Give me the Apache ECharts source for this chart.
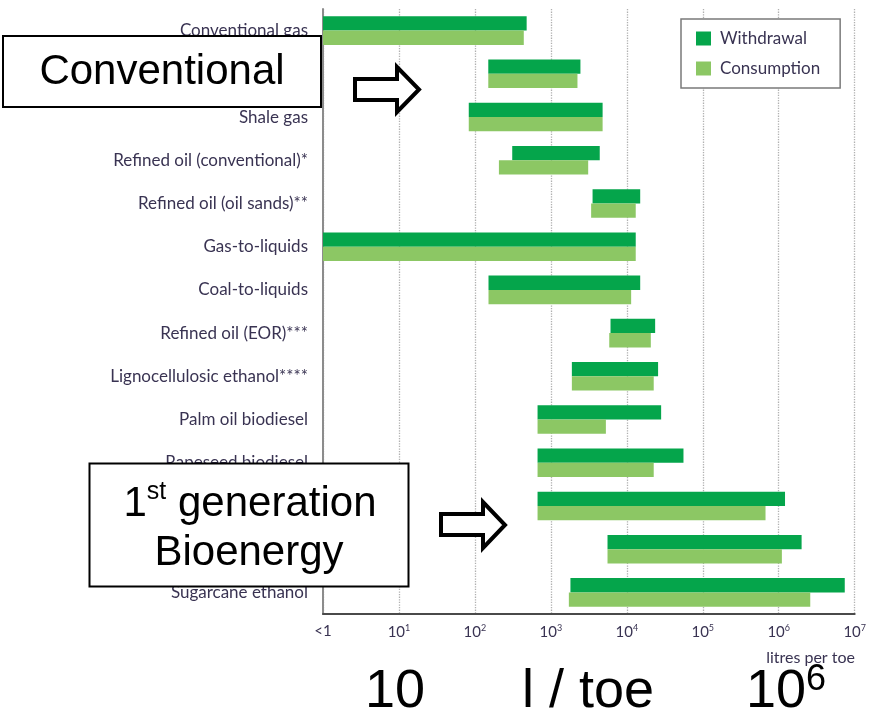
<!DOCTYPE html>
<html>
<head>
<meta charset="utf-8">
<script src="https://cdn.jsdelivr.net/npm/echarts@6/dist/echarts.min.js"></script>
<style>
html,body{margin:0;padding:0;background:#fff;}
#chart{width:869px;height:715px;}
</style>
</head>
<body>
<div id="chart"></div>
<script>
var categories = ['Conventional gas','Coal','Shale gas','Refined oil (conventional)*','Refined oil (oil sands)**','Gas-to-liquids','Coal-to-liquids','Refined oil (EOR)***','Lignocellulosic ethanol****','Palm oil biodiesel','Rapeseed biodiesel','Soybean biodiesel','Corn ethanol','Sugarcane ethanol'];
var withdrawalLow   = [1, 150, 83, 310, 3540, 1, 151, 6100, 1890, 668, 668, 668, 5570, 1810];
var withdrawalHigh  = [480, 2450, 4800, 4400, 15000, 13100, 15000, 23600, 25800, 28300, 55700, 1210000, 2000000, 7400000];
var consumptionLow  = [1, 150, 83, 207, 3390, 1, 151, 5870, 1890, 668, 668, 668, 5570, 1725];
var consumptionHigh = [440, 2240, 4800, 3100, 13100, 13100, 11400, 20700, 22600, 5300, 22600, 670000, 1100000, 2600000];
var tickExponents = ['<1', '1', '2', '3', '4', '5', '6', '7'];
var seriesNames = ['Withdrawal', 'Consumption'];

var TXT = '#393352';
var FONT = 'Lato';
var ANN = '"Liberation Sans", Arial, sans-serif';

function buildData(lo, hi) {
  return categories.map(function (c, i) { return [lo[i], i, hi[i]]; });
}

function makeRender(color, upper) {
  return function (params, api) {
    var lo = api.value(0), cat = api.value(1), hi = api.value(2);
    var s = api.coord([lo, cat]);
    var e = api.coord([hi, cat]);
    var h = 14.3;
    var y = upper ? s[1] - h : s[1];
    return {
      type: 'rect',
      shape: { x: s[0], y: y, width: e[0] - s[0], height: h },
      style: { fill: color }
    };
  };
}

var chart = echarts.init(document.getElementById('chart'), null, { renderer: 'canvas' });

var option = {
  animation: false,
  backgroundColor: '#fff',
  grid: { left: 323, right: 13, top: 9, bottom: 101, containLabel: false },
  legend: {
    left: 681, top: 19, orient: 'vertical',
    data: [{ name: seriesNames[0], icon: 'rect' }, { name: seriesNames[1], icon: 'rect' }],
    itemWidth: 15, itemHeight: 14, itemGap: 13,
    padding: [11, 20, 11, 15],
    borderColor: '#7a7a7a', borderWidth: 1.5, backgroundColor: '#fff',
    textStyle: { fontFamily: FONT, fontSize: 17, color: TXT, padding: [0, 0, 0, 4] }
  },
  xAxis: {
    type: 'log', logBase: 10, min: 1, max: 10000000, interval: 1,
    axisLine: { show: true, lineStyle: { color: '#4a4a4a', width: 2 } },
    axisTick: { show: false },
    splitLine: { show: true, lineStyle: { type: 'dotted', color: '#b0b0b0', width: 1.3 } },
    axisLabel: {
      margin: 10,
      formatter: function (v) {
        var p = Math.round(Math.log(v) / Math.LN10);
        var t = tickExponents[p];
        return p === 0 ? '{b|' + t + '}' : '{b|10}{s|' + t + '}';
      },
      rich: {
        b: { fontFamily: FONT, fontSize: 15, color: TXT },
        s: { fontFamily: FONT, fontSize: 9, color: TXT, verticalAlign: 'top', padding: [0, 0, 7, 0] }
      }
    }
  },
  yAxis: {
    type: 'category', data: categories, inverse: true,
    axisLine: { show: true, lineStyle: { color: '#8c8c8c', width: 2 } },
    axisTick: { show: false },
    splitLine: { show: false },
    axisLabel: { margin: 15, fontFamily: FONT, fontSize: 17, color: TXT }
  },
  series: [
    {
      name: seriesNames[0], type: 'custom', itemStyle: { color: '#05a54b' },
      encode: { x: [0, 2], y: 1 },
      renderItem: makeRender('#05a54b', true),
      data: buildData(withdrawalLow, withdrawalHigh)
    },
    {
      name: seriesNames[1], type: 'custom', itemStyle: { color: '#8cc764' },
      encode: { x: [0, 2], y: 1 },
      renderItem: makeRender('#8cc764', false),
      data: buildData(consumptionLow, consumptionHigh)
    }
  ],
  graphic: [
    { type: 'text', z: 50, style: { x: 855, y: 658, text: 'litres per toe', align: 'right', verticalAlign: 'middle', font: '16px ' + FONT, fill: TXT } },
    { type: 'rect', z: 100, shape: { x: 3, y: 36, width: 318, height: 71 }, style: { fill: '#fff', stroke: '#000', lineWidth: 2 } },
    { type: 'text', z: 101, style: { x: 162, y: 72, text: 'Conventional', align: 'center', verticalAlign: 'middle', font: '42px ' + ANN, fill: '#000' } },
    { type: 'polygon', z: 100, shape: { points: [[355, 79], [397, 79], [397, 67], [419, 89.5], [397, 112], [397, 100], [355, 100]] }, style: { fill: '#fff', stroke: '#000', lineWidth: 4 } },
    { type: 'rect', z: 100, shape: { x: 89.5, y: 463.5, width: 319, height: 123 }, style: { fill: '#fff', stroke: '#000', lineWidth: 2 } },
    { type: 'text', z: 101, style: {
        x: 250, y: 504, align: 'center', verticalAlign: 'middle',
        text: '{n|1}{s|st}{n| generation}',
        rich: {
          n: { fontFamily: ANN, fontSize: 42, fill: '#000', lineHeight: 48 },
          s: { fontFamily: ANN, fontSize: 25, fill: '#000', verticalAlign: 'top', lineHeight: 30 }
        }
      } },
    { type: 'text', z: 101, style: { x: 249, y: 553, text: 'Bioenergy', align: 'center', verticalAlign: 'middle', font: '42px ' + ANN, fill: '#000' } },
    { type: 'polygon', z: 100, shape: { points: [[441, 514], [483, 514], [483, 502], [505, 525], [483, 548], [483, 535], [441, 535]] }, style: { fill: '#fff', stroke: '#000', lineWidth: 4 } },
    { type: 'text', z: 101, style: { x: 395, y: 692, text: '10', align: 'center', verticalAlign: 'middle', font: '54px ' + ANN, fill: '#000' } },
    { type: 'text', z: 101, style: { x: 588, y: 692, text: 'l / toe', align: 'center', verticalAlign: 'middle', font: '54px ' + ANN, fill: '#000' } },
    { type: 'text', z: 101, style: {
        x: 786, y: 692, align: 'center', verticalAlign: 'middle',
        text: '{n|10}{s|6}',
        rich: {
          n: { fontFamily: ANN, fontSize: 54, fill: '#000', lineHeight: 60 },
          s: { fontFamily: ANN, fontSize: 36, fill: '#000', verticalAlign: 'top', lineHeight: 40 }
        }
      } }
  ]
};
chart.setOption(option);
</script>
</body>
</html>
